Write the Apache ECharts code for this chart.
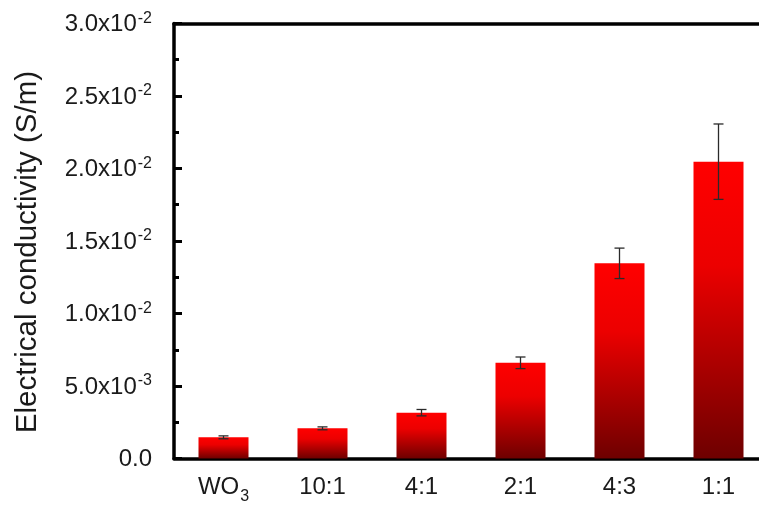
<!DOCTYPE html>
<html>
<head>
<meta charset="utf-8">
<script src="https://cdn.jsdelivr.net/npm/echarts@6/dist/echarts.min.js"></script>
<style>
  html, body { margin: 0; padding: 0; background: #fff; }
  #chart { width: 759px; height: 506px; }
</style>
</head>
<body>
<div id="chart"></div>
<script>
// Samples and measured conductivity (S/m) with standard deviation
const categories = ['WO3', '10:1', '4:1', '2:1', '4:3', '1:1'];
const conductivity = [0.00146, 0.00208, 0.00316, 0.0066, 0.01346, 0.02047];
const conductivityErr = [0.0001, 0.0001, 0.00022, 0.0004, 0.00105, 0.0026];

// Y tick labels written as mantissa x 10^exponent
const yTickMantissa = ['0.0', '5.0', '1.0', '1.5', '2.0', '2.5', '3.0'];
const yTickExponent = ['', '-3', '-2', '-2', '-2', '-2', '-2'];
const yStep = 0.005;
const yMax = 0.03;

const FONT = '"Liberation Sans", Arial, sans-serif';
const TEXT = '#1a1a1a';

const chart = echarts.init(document.getElementById('chart'), null, { renderer: 'canvas' });

const errData = categories.map((c, i) => [i, conductivity[i], conductivityErr[i]]);

const option = {
  backgroundColor: '#ffffff',
  animation: false,
  grid: { left: 174, top: 23.5, width: 594, height: 435, containLabel: false, outerBoundsMode: 'none' },
  xAxis: [
    {
      type: 'category',
      data: categories,
      boundaryGap: true,
      axisLine: { show: true, lineStyle: { color: '#000', width: 3.5 } },
      axisTick: { show: false },
      axisLabel: {
        interval: 0,
        margin: 17,
        fontFamily: FONT,
        fontSize: 24,
        color: TEXT,
        formatter: v => v.replace(/^([A-Za-z]+)(\d+)$/, '{n|$1}{sub|$2}'),
        rich: {
          n: { fontFamily: FONT, fontSize: 24, color: TEXT, lineHeight: 26, verticalAlign: 'top' },
          sub: { fontFamily: FONT, fontSize: 16, color: TEXT, lineHeight: 16, verticalAlign: 'bottom', padding: [0, 0, -3, 1] }
        }
      },
      splitLine: { show: false }
    },
    {
      // frame line along the top of the plot
      type: 'category',
      position: 'top',
      data: categories,
      axisLine: { show: true, lineStyle: { color: '#000', width: 3.5 } },
      axisTick: { show: false },
      axisLabel: { show: false },
      splitLine: { show: false }
    }
  ],
  yAxis: {
    type: 'value',
    min: 0,
    max: yMax,
    interval: yStep,
    name: 'Electrical conductivity (S/m)',
    nameLocation: 'middle',
    nameGap: 131,
    nameTextStyle: { fontFamily: FONT, fontSize: 29.5, color: TEXT, padding: [0, 22, 0, 0] },
    axisLine: { show: true, lineStyle: { color: '#000', width: 3.5 } },
    axisTick: { show: true, inside: true, length: 8, lineStyle: { color: '#000', width: 3 } },
    minorTick: { show: true, splitNumber: 2, length: 5, lineStyle: { color: '#000', width: 3 } },
    splitLine: { show: false },
    minorSplitLine: { show: false },
    axisLabel: {
      margin: 22,
      fontFamily: FONT,
      fontSize: 24,
      color: TEXT,
      formatter: v => {
        const i = Math.round(v / yStep);
        const m = yTickMantissa[i];
        const e = yTickExponent[i];
        return e ? '{m|' + m + 'x10}{sup|' + e + '}' : '{m|' + m + '}';
      },
      rich: {
        m: { fontFamily: FONT, fontSize: 24, color: TEXT, lineHeight: 26, verticalAlign: 'bottom' },
        sup: { fontFamily: FONT, fontSize: 16, color: TEXT, lineHeight: 16, verticalAlign: 'top', padding: [0, 0, 6, 1] }
      }
    }
  },
  series: [
    {
      type: 'bar',
      data: conductivity,
      barWidth: 50,
      itemStyle: {
        color: new echarts.graphic.LinearGradient(0, 0, 0, 1, [
          { offset: 0, color: '#ff0000' },
          { offset: 0.35, color: '#ec0000' },
          { offset: 1, color: '#6e0000' }
        ])
      }
    },
    {
      type: 'custom',
      data: errData,
      encode: { x: 0, y: 1 },
      z: 5,
      renderItem: (params, api) => {
        const x = api.value(0);
        const y = api.value(1);
        const e = api.value(2);
        const hi = api.coord([x, y + e]);
        const lo = api.coord([x, y - e]);
        const cap = 5;
        const style = { stroke: '#2a2a2a', lineWidth: 1.3 };
        return {
          type: 'group',
          children: [
            { type: 'line', shape: { x1: hi[0], y1: hi[1], x2: lo[0], y2: lo[1] }, style },
            { type: 'line', shape: { x1: hi[0] - cap, y1: hi[1], x2: hi[0] + cap, y2: hi[1] }, style },
            { type: 'line', shape: { x1: lo[0] - cap, y1: lo[1], x2: lo[0] + cap, y2: lo[1] }, style }
          ]
        };
      }
    }
  ]
};

chart.setOption(option);
</script>
</body>
</html>
